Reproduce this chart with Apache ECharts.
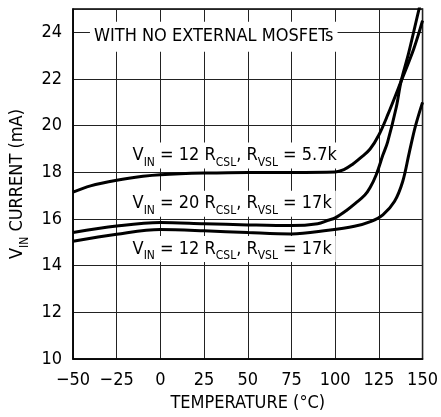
<!DOCTYPE html>
<html><head><meta charset="utf-8">
<script src="https://cdn.jsdelivr.net/npm/echarts@6/dist/echarts.min.js"></script>
<style>html,body{margin:0;padding:0;background:#fff}#c{width:441px;height:417px}</style>
</head><body><div id="c"></div>
<script>
const FONT = "'Liberation Sans Narrow','DejaVu Sans Condensed','Liberation Sans',sans-serif";
const xTicks = [-50, -25, 0, 25, 50, 75, 100, 125, 150];
const yTicks = [10, 12, 14, 16, 18, 20, 22, 24];

// VIN = 12, RVSL = 5.7k
const c1T = [-50, -40, -25, -10, 0, 25, 50, 75, 100, 105, 110, 115, 120, 125, 130, 137.7, 145, 150];
const c1I = [17.15, 17.42, 17.66, 17.83, 17.9, 17.97, 18.0, 18.0, 18.02, 18.12, 18.35, 18.65, 19.0, 19.6, 20.45, 21.9, 23.3, 24.5];
// VIN = 20, RVSL = 17k
const c2T = [-50, -25, 0, 25, 50, 75, 90, 96, 100, 107, 112, 117, 120, 123.5, 127.3, 130, 135, 137.7, 142, 148, 150];
const c2I = [15.42, 15.7, 15.85, 15.8, 15.75, 15.72, 15.8, 15.95, 16.05, 16.4, 16.7, 17.03, 17.35, 17.9, 18.74, 19.3, 20.8, 21.9, 23.1, 25.0, 25.6];
// VIN = 12, RVSL = 17k
const c3T = [-50, -25, 0, 25, 50, 75, 96, 111, 120.6, 127.3, 133.9, 138.6, 142.4, 146, 150];
const c3I = [15.05, 15.35, 15.55, 15.5, 15.42, 15.36, 15.52, 15.69, 15.9, 16.18, 16.75, 17.6, 18.85, 20.0, 21.0];

const zip = (t, v) => t.map((x, i) => [x, v[i]]);
const lineStyle = { color: '#000', width: 3 };
const mk = (name, t, v) => ({
  name, type: 'line', data: zip(t, v), smooth: 0.35, showSymbol: false, symbol: 'none',
  lineStyle, clip: true, z: 5
});

const rich = {
  m: { fontFamily: FONT, fontSize: 18, color: '#000', lineHeight: 26, verticalAlign: 'middle', opacity: 1 },
  s: { fontFamily: FONT, fontSize: 12, color: '#000', lineHeight: 12, verticalAlign: 'bottom', opacity: 1 }
};
const annot = (coord, text, pad) => ({
  value: coord,
  label: {
    show: true, position: 'right', distance: 0, formatter: text, rich,
    color: '#000', opacity: 1, fontFamily: FONT, fontSize: 18, textBorderWidth: 0,
    backgroundColor: '#fff', padding: pad
  }
});

const chart = echarts.init(document.getElementById('c'), null, { renderer: 'canvas' });
chart.setOption({
  animation: false,
  backgroundColor: '#fff',
  grid: { left: 73, right: 16, top: 9, bottom: 55, show: true, borderColor: '#000', borderWidth: 1.5, containLabel: false },
  xAxis: {
    type: 'value', min: -50, max: 150, interval: 25,
    name: 'TEMPERATURE (°C)', nameLocation: 'middle', nameGap: 33,
    nameTextStyle: { fontFamily: FONT, fontSize: 18, color: '#000' },
    axisLine: { show: true, onZero: false, lineStyle: { color: '#000', width: 1.5 } },
    axisTick: { show: false },
    axisLabel: { fontFamily: FONT, fontSize: 18, color: '#000', margin: 12,
      formatter: v => (xTicks.includes(v) ? String(v).replace('-', '\u2212') : '') },
    splitLine: { show: true, lineStyle: { color: '#222', width: 1 } }
  },
  yAxis: {
    type: 'value', min: 10, max: 25, interval: 2,
    name: '{m|V}{s|IN}{m| CURRENT (mA)}', nameLocation: 'middle', nameGap: 42, nameRotate: 90,
    nameTextStyle: { rich, color: '#000' },
    axisLine: { show: true, onZero: false, lineStyle: { color: '#000', width: 1.5 } },
    axisTick: { show: false },
    axisLabel: { fontFamily: FONT, fontSize: 18, color: '#000', margin: 11, showMaxLabel: false,
      formatter: v => (yTicks.includes(v) ? String(v) : '') },
    splitLine: { show: true, lineStyle: { color: '#222', width: 1 } }
  },
  series: [
    mk('VIN=12 RVSL=5.7k', c1T, c1I),
    mk('VIN=20 RVSL=17k', c2T, c2I),
    mk('VIN=12 RVSL=17k', c3T, c3I),
    {
      type: 'scatter', symbolSize: 0, z: 4, silent: true,
      itemStyle: { opacity: 1 },
      data: [
        annot([-40.3, 23.81], '{m|WITH NO EXTERNAL MOSFETs}', [2, 4, 2, 4]),
        annot([-18.2, 18.72], '{m|V}{s|IN}{m| = 12 R}{s|CSL}{m|, R}{s|VSL}{m| = 5.7k}', [0, 4, 0, 4]),
        annot([-18.2, 16.66], '{m|V}{s|IN}{m| = 20 R}{s|CSL}{m|, R}{s|VSL}{m| = 17k}', [0, 4, 0, 4]),
        annot([-18.2, 14.72], '{m|V}{s|IN}{m| = 12 R}{s|CSL}{m|, R}{s|VSL}{m| = 17k}', [0, 4, 0, 4])
      ]
    }
  ]
});
</script></body></html>
